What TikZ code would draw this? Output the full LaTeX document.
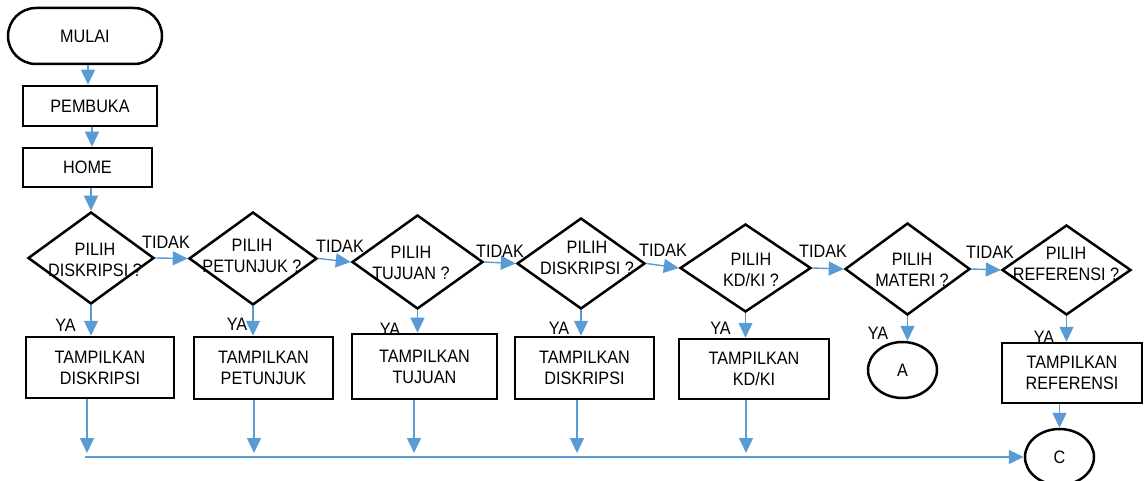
\documentclass[tikz,border=0pt]{standalone}
\usepackage{fontspec}
\setmainfont[FakeStretch=0.9]{Liberation Sans}
\usetikzlibrary{shapes.geometric,arrows.meta}
\definecolor{flowblue}{HTML}{5B9BD5}
\begin{document}
\begin{tikzpicture}[x=1pt,y=-1pt,
  every node/.style={font=\fontsize{18}{21}\selectfont, inner sep=0pt},
  shapeline/.style={draw=black, line width=2.5pt},
  box/.style={shapeline, rectangle, align=center},
  terminal/.style={shapeline, rectangle, rounded corners=28pt},
  decision/.style={shapeline, diamond},
  connector/.style={shapeline, ellipse, minimum width=69pt, minimum height=56pt},
  caption/.style={align=center},
  flow/.style={draw=flowblue, line width=1.4pt, -{Triangle[length=15pt,width=14pt]}}
]
\useasboundingbox (0,0) rectangle (1144,481);

% start and opening screens
\node[terminal, minimum width=154pt, minimum height=56pt] (mulai) at (85,36) {MULAI};
\node[box, minimum width=134pt, minimum height=40pt] (pembuka) at (90,106) {PEMBUKA};
\node[box, minimum width=129pt, minimum height=39pt] (home) at (87.5,167.5) {HOME};

% menu decisions
\node[decision, minimum width=126pt, minimum height=92pt] (d1) at (91,258) {};
\node[decision, minimum width=128pt, minimum height=93pt] (d2) at (253,258.5) {};
\node[decision, minimum width=131pt, minimum height=94pt] (d3) at (417.5,262) {};
\node[decision, minimum width=128pt, minimum height=91pt] (d4) at (581,263.5) {};
\node[decision, minimum width=131pt, minimum height=88pt] (d5) at (745.5,268) {};
\node[decision, minimum width=125pt, minimum height=92pt] (d6) at (907.5,269) {};
\node[decision, minimum width=129pt, minimum height=90pt] (d7) at (1066.5,270) {};

\node[caption] (q1) at (95,259.5) {PILIH\\DISKRIPSI ?};
\node[caption] (q2) at (252,255.5) {PILIH\\PETUNJUK ?};
\node[caption] (q3) at (411,262.5) {PILIH\\TUJUAN ?};
\node[caption] (q4) at (587,258) {PILIH\\DISKRIPSI ?};
\node[caption] (q5) at (751,269.5) {PILIH\\KD/KI ?};
\node[caption] (q6) at (912,269.5) {PILIH\\MATERI ?};
\node[caption] (q7) at (1066,264) {PILIH\\REFERENSI ?};

% result screens
\node[box, minimum width=148pt, minimum height=61pt] (b1) at (100,367.5) {TAMPILKAN\\DISKRIPSI};
\node[box, minimum width=139pt, minimum height=62pt] (b2) at (263.5,368) {TAMPILKAN\\PETUNJUK};
\node[box, minimum width=145pt, minimum height=65pt] (b3) at (424.5,366.5) {TAMPILKAN\\TUJUAN};
\node[box, minimum width=139pt, minimum height=62pt] (b4) at (584.5,368) {TAMPILKAN\\DISKRIPSI};
\node[box, minimum width=150pt, minimum height=60pt] (b5) at (754,369) {TAMPILKAN\\KD/KI};
\node[box, minimum width=140pt, minimum height=60pt] (b7) at (1072,373) {TAMPILKAN\\REFERENSI};

% off-page connectors
\node[connector] (ca) at (902.5,370) {A};
\node[connector] (cc) at (1059.5,457) {C};

% main sequence
\draw[flow] ([xshift=3pt]mulai.south) -- ([xshift=3pt]mulai.south |- pembuka.north);
\draw[flow] ([xshift=2pt]pembuka.south) -- ([xshift=2pt]pembuka.south |- home.north);
\draw[flow] (home.south -| d1.north) -- (d1.north);

% TIDAK branches
\draw[flow] (d1.east) -- (d2.west);
\draw[flow] (d2.east) -- (d3.west);
\draw[flow] (d3.east) -- (d4.west);
\draw[flow] (d4.east) -- (d5.west);
\draw[flow] (d5.east) -- (d6.west);
\draw[flow] (d6.east) -- (d7.west);

\node (n1) at (166,242) {TIDAK};
\node (n2) at (340,246) {TIDAK};
\node (n3) at (500,251) {TIDAK};
\node (n4) at (663,250) {TIDAK};
\node (n5) at (823,251) {TIDAK};
\node (n6) at (990,252) {TIDAK};

% YA branches
\draw[flow] (d1.south) -- (d1.south |- b1.north);
\draw[flow] (d2.south) -- (d2.south |- b2.north);
\draw[flow] (d3.south) -- (d3.south |- b3.north);
\draw[flow] (d4.south) -- (d4.south |- b4.north);
\draw[flow] (d5.south) -- (d5.south |- b5.north);
\draw[flow] (d6.south) -- (d6.south |- ca.north);
\draw[flow] (d7.south) -- (d7.south |- b7.north);

\node (y1) at (65.5,325) {YA};
\node (y2) at (237,324) {YA};
\node (y3) at (390,329) {YA};
\node (y4) at (559,328) {YA};
\node (y5) at (720.5,328) {YA};
\node (y6) at (878,333) {YA};
\node (y7) at (1044,337) {YA};

% return lines to connector C
\coordinate (drop) at (0,453);
\coordinate (busstart) at (85,457);
\draw[flow] ([xshift=-13pt]b1.south) -- ([xshift=-13pt]b1.south |- drop);
\draw[flow] ([xshift=-9.5pt]b2.south) -- ([xshift=-9.5pt]b2.south |- drop);
\draw[flow] ([xshift=-10.5pt]b3.south) -- ([xshift=-10.5pt]b3.south |- drop);
\draw[flow] ([xshift=-7.5pt]b4.south) -- ([xshift=-7.5pt]b4.south |- drop);
\draw[flow] ([xshift=-8pt]b5.south) -- ([xshift=-8pt]b5.south |- drop);
\draw[flow] (busstart) -- (cc.west);
\draw[flow] (cc.north |- b7.south) -- (cc.north);
\end{tikzpicture}
\end{document}
